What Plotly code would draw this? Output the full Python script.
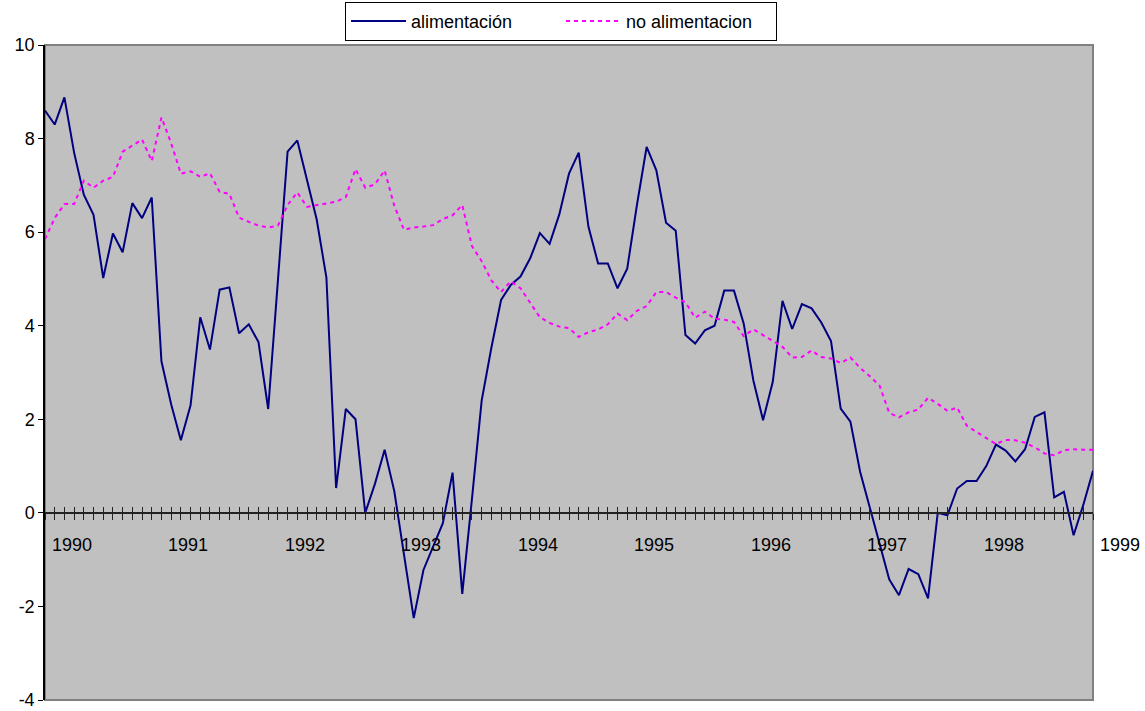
import plotly.graph_objects as go

# Monthly series, January 1990 to January 1999 (109 months)
alimentacion = [
    8.6, 8.3, 8.88, 7.7, 6.8, 6.37, 5.02, 5.97, 5.57, 6.62, 6.3, 6.74,
    3.24, 2.32, 1.55, 2.3, 4.18, 3.49, 4.77, 4.82, 3.84, 4.03, 3.65, 2.22,
    4.96, 7.72, 7.96, 7.1, 6.27, 5.03, 0.53, 2.22, 2.0, 0.0, 0.62, 1.35,
    0.46, -0.9, -2.25, -1.22, -0.7, -0.22, 0.86, -1.73, 0.3, 2.4, 3.53, 4.55,
    4.87, 5.05, 5.44, 5.98, 5.75, 6.38, 7.25, 7.7, 6.12, 5.33, 5.33, 4.8,
    5.22, 6.58, 7.82, 7.32, 6.2, 6.03, 3.8, 3.62, 3.9, 4.0, 4.75, 4.75,
    4.05, 2.83, 1.98, 2.8, 4.53, 3.93, 4.46, 4.37, 4.07, 3.67, 2.23, 1.95,
    0.88, 0.13, -0.68, -1.42, -1.76, -1.2, -1.31, -1.83, 0.0, -0.05, 0.52, 0.68,
    0.68, 1.0, 1.46, 1.33, 1.1, 1.36, 2.05, 2.15, 0.33, 0.45, -0.48, 0.17,
    0.9,
]

no_alimentacion = [
    5.85, 6.3, 6.6, 6.6, 7.1, 6.95, 7.1, 7.18, 7.72, 7.85, 7.98, 7.52,
    8.45, 7.9, 7.25, 7.3, 7.18, 7.26, 6.86, 6.82, 6.31, 6.22, 6.14, 6.1,
    6.14, 6.58, 6.85, 6.54, 6.58, 6.61, 6.65, 6.75, 7.35, 6.95, 7.02, 7.32,
    6.56, 6.05, 6.1, 6.12, 6.15, 6.28, 6.36, 6.58, 5.7, 5.38, 4.97, 4.72,
    4.95, 4.8, 4.5, 4.18, 4.06, 3.98, 3.95, 3.76, 3.86, 3.92, 4.03, 4.26,
    4.12, 4.32, 4.42, 4.72, 4.72, 4.6, 4.5, 4.17, 4.3, 4.15, 4.13, 4.08,
    3.78, 3.92, 3.8, 3.68, 3.55, 3.32, 3.33, 3.47, 3.33, 3.3, 3.2, 3.32,
    3.1, 2.92, 2.72, 2.14, 2.04, 2.15, 2.21, 2.46, 2.33, 2.18, 2.25, 1.86,
    1.73, 1.6, 1.47, 1.56, 1.55, 1.5, 1.4, 1.27, 1.23, 1.34, 1.36, 1.35,
    1.35,
]

years = ["1990", "1991", "1992", "1993", "1994", "1995", "1996", "1997", "1998", "1999"]
y_ticks = [10, 8, 6, 4, 2, 0, -2, -4]
y_tick_text = ["10", "8", "6", "4", "2", "0", "-2", "-4"]

months = list(range(len(alimentacion)))
last = months[-1]
FONT = "Liberation Sans, Arial, sans-serif"

fig = go.Figure()
fig.add_trace(go.Scatter(
    x=months, y=alimentacion, mode="lines", name="alimentación",
    line=dict(color="#000080", width=2),
))
fig.add_trace(go.Scatter(
    x=months, y=no_alimentacion, mode="lines", name="no alimentacion",
    line=dict(color="#FF00FF", width=2, dash="4px,4px"),
))

y_min, y_max = -4, 10
zero_pos = (0 - y_min) / (y_max - y_min)

# category axis crossing at zero: one overlay for ticks below, one for ticks above
axis_common = dict(
    range=[0, last], overlaying="x", anchor="free", position=zero_pos,
    tickmode="linear", tick0=0, dtick=1, ticklen=6, tickwidth=1.2,
    tickcolor="#222222", showticklabels=False, showgrid=False, zeroline=False,
    automargin=False,
)

fig.update_layout(
    width=1145, height=711,
    margin=dict(l=45, r=52, t=45, b=11, autoexpand=False),
    paper_bgcolor="white",
    plot_bgcolor="#C0C0C0",
    font=dict(family=FONT, size=18, color="black"),
    showlegend=True,
    legend=dict(
        orientation="h", x=0.4924, xanchor="center", y=1.066, yanchor="top",
        bgcolor="white", bordercolor="black", borderwidth=1,
        font=dict(family=FONT, size=18, color="black"),
        itemwidth=55, tracegroupgap=0,
        entrywidth=145, entrywidthmode="pixels",
    ),
    xaxis=dict(range=[0, last], showline=False, showticklabels=False,
               showgrid=False, zeroline=False, ticks="", automargin=False),
    xaxis2=dict(**axis_common, ticks="outside", showline=True,
                linecolor="#222222", linewidth=2),
    xaxis3=dict(**axis_common, ticks="inside", showline=False),
    yaxis=dict(
        range=[y_min, y_max], tickmode="array", tickvals=y_ticks,
        ticktext=y_tick_text, ticks="outside", ticklen=5, tickcolor="black",
        showline=True, linecolor="black", linewidth=1.5,
        showgrid=False, zeroline=False, ticklabeloverflow="allow",
        automargin=False,
        tickfont=dict(family=FONT, size=18, color="black"),
    ),
)

# empty traces to make the crossing axes render
fig.add_trace(go.Scatter(x=[], y=[], xaxis="x2", showlegend=False, hoverinfo="skip"))
fig.add_trace(go.Scatter(x=[], y=[], xaxis="x3", showlegend=False, hoverinfo="skip"))

# plot area border
fig.add_shape(type="rect", xref="paper", yref="paper", x0=0, x1=1, y0=0, y1=1,
              line=dict(color="#808080", width=2), layer="below")

# year labels start just right of each January tick
for k, yr in enumerate(years):
    fig.add_annotation(
        x=12 * k, y=0, xref="x", yref="y", text=yr, showarrow=False,
        xanchor="left", yanchor="middle", xshift=5, yshift=-32,
        font=dict(family=FONT, size=18, color="black"),
    )

fig.write_html("out.html")
